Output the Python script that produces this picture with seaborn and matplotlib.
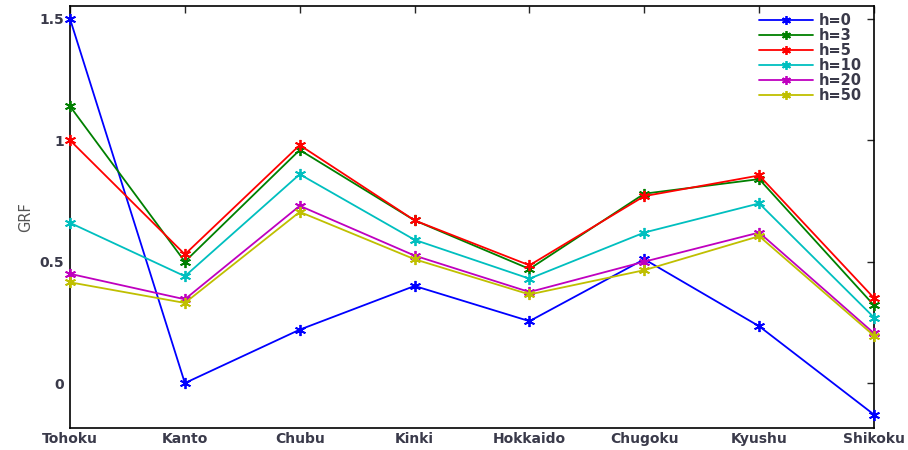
import pandas as pd
import numpy as np
import seaborn as sns
import matplotlib.pyplot as plt

sns.set_style("white")
plt.rcParams["font.family"] = ["DejaVu Sans"]

# Regions on the x axis
regions = ['Tohoku', 'Kanto', 'Chubu', 'Kinki', 'Hokkaido', 'Chugoku', 'Kyushu', 'Shikoku']

# GRF values, one list per horizon
h0 = [1.50, 0.00, 0.22, 0.40, 0.255, 0.51, 0.234, -0.13]
h3 = [1.14, 0.50, 0.96, 0.67, 0.47, 0.78, 0.84, 0.32]
h5 = [1.00, 0.53, 0.98, 0.67, 0.485, 0.77, 0.855, 0.35]
h10 = [0.66, 0.44, 0.86, 0.59, 0.43, 0.62, 0.74, 0.27]
h20 = [0.45, 0.345, 0.73, 0.525, 0.375, 0.50, 0.62, 0.205]
h50 = [0.415, 0.33, 0.705, 0.51, 0.365, 0.465, 0.605, 0.195]

labels = ['h=0', 'h=3', 'h=5', 'h=10', 'h=20', 'h=50']
series = [h0, h3, h5, h10, h20, h50]
colors = ['#0000ff', '#008000', '#ff0000', '#00bfbf', '#bf00bf', '#bfbf00']

# long format table for seaborn
rows = []
for lab, vals in zip(labels, series):
    for reg, v in zip(regions, vals):
        rows.append({'region': reg, 'GRF': v, 'h': lab})
df = pd.DataFrame(rows)

fig = plt.figure(figsize=(9.08, 4.5), dpi=100)
ax = fig.add_axes([0.0771, 0.0489, 0.8855, 0.9378])

for lab, col in zip(labels, colors):
    sub = df[df['h'] == lab]
    sns.lineplot(data=sub, x='region', y='GRF', color=col, label=lab,
                 marker=(6, 2, 0), markersize=8, markeredgewidth=1.3,
                 markeredgecolor=col, linewidth=1.3, sort=False, ax=ax,
                 clip_on=False, zorder=3)

ax.set_xlim(0, 7)
ax.set_ylim(-0.185, 1.553)
ax.set_yticks([0, 0.5, 1, 1.5])
ax.set_yticklabels(['0', '0.5', '1', '1.5'])
ax.set_xlabel('')
ax.set_ylabel('GRF', fontsize=10.5, color='#555555', labelpad=5)

for s in ax.spines.values():
    s.set_color('black')
    s.set_linewidth(1.2)
    s.set_zorder(2)
ax.tick_params(direction='in', top=True, right=True, length=5, width=1,
               labelsize=10)
ax.tick_params(axis='x', pad=3)
ax.tick_params(axis='y', pad=4)
for t in ax.get_xticklabels() + ax.get_yticklabels():
    t.set_fontweight('bold')
    t.set_color('#3a3a4a')

leg = ax.legend(loc='upper right', bbox_to_anchor=(0.99, 0.993), frameon=False,
                fontsize=10.5, handlelength=3.7, handletextpad=0.35,
                borderaxespad=0.0, borderpad=0.3, labelspacing=0.0,
                markerscale=0.8)
for t in leg.get_texts():
    t.set_fontweight('bold')
    t.set_color('#3a3a4a')

plt.savefig('out.png', dpi=100)
